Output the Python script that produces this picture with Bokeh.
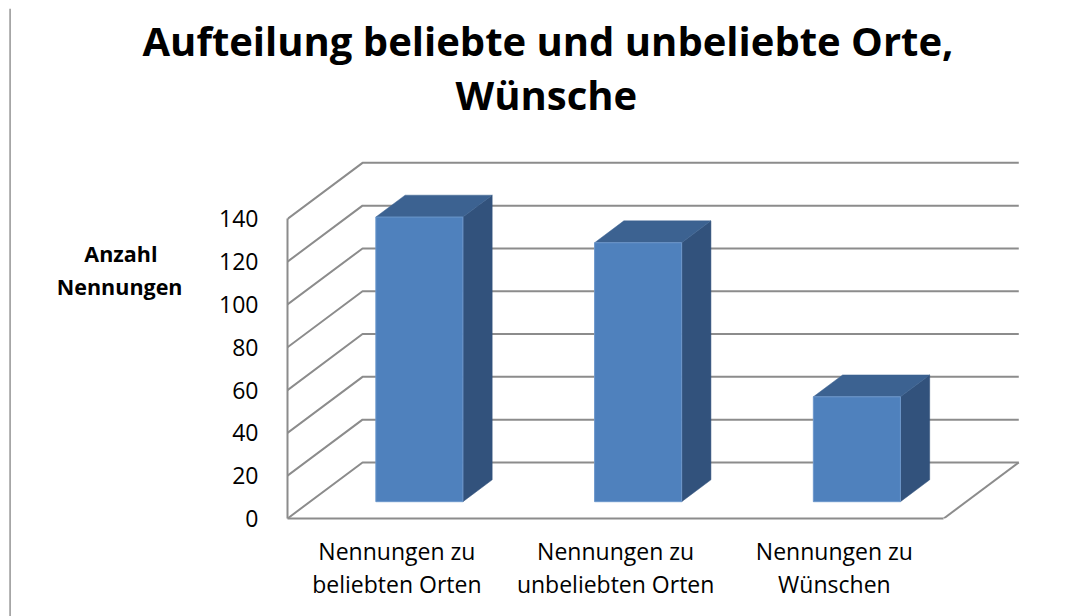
from bokeh.embed import file_html
from bokeh.resources import INLINE
from bokeh.plotting import figure
from bokeh.layouts import row
from bokeh.models import Range1d, LinearAxis, FixedTicker, Title

title_lines = ["Aufteilung beliebte und unbeliebte Orte,", "Wünsche"]
y_title = ["Anzahl", "Nennungen"]
y_title_at = [123.6, 108.6]
cat_line1 = ["Nennungen zu", "Nennungen zu", "Nennungen zu"]
cat_line2 = ["beliebten Orten", "unbeliebten Orten", "Wünschen"]
values = [133, 121, 49]
y_ticks = [0, 20, 40, 60, 80, 100, 120, 140]
cat_pos = [0.5, 1.5, 2.5]

FONT = "Open Sans"
GRAY = "#8c8c8c"
DX, DY = 0.343, 26.2      # depth of the 3-D box in data units
D0, D1 = 0.30, 0.69       # depth span of the bars
HW = 0.199                # half bar width
RULE_W = 11
L, T = 287 - RULE_W, 154
W, H = 1073 - RULE_W, 616

p = figure(width=W, height=H, output_backend="svg", toolbar_location=None,
           x_range=Range1d(0, 3.36), y_range=Range1d(0, 170.09),
           min_border_left=L, min_border_right=51, min_border_top=T, min_border_bottom=98,
           x_axis_type=None, y_axis_type=None, outline_line_color=None, frame_align=False)
p.grid.visible = False

def plain_axis(ticks, labels=None, size="23px", style="normal", standoff=0, line=False, bounds=None):
    ax = LinearAxis(ticker=FixedTicker(ticks=ticks))
    if labels is not None:
        ax.major_label_overrides = {t: s for t, s in zip(ticks, labels)}
    if bounds is not None:
        ax.bounds = bounds
    ax.axis_line_color = GRAY if line else None
    ax.axis_line_width = 2
    ax.major_tick_line_color = None
    ax.minor_tick_line_color = None
    ax.major_label_text_font = FONT
    ax.major_label_text_font_size = size
    ax.major_label_text_font_style = style
    ax.major_label_text_color = "#000000"
    ax.major_label_standoff = standoff
    return ax

p.add_layout(plain_axis(y_ticks, standoff=23, line=True, bounds=(0, 140)), "left")
p.add_layout(plain_axis(y_title_at[1:], y_title[1:], size="21.5px", style="bold", standoff=28), "left")
p.add_layout(plain_axis(y_title_at[:1], y_title[:1], size="21.5px", style="bold", standoff=-110), "left")
p.add_layout(plain_axis(cat_pos, cat_line1, standoff=10, line=True, bounds=(0, 3)), "below")
p.add_layout(plain_axis(cat_pos, cat_line2, standoff=-8), "below")

# wall and floor lines
xs, ys = [], []
for v in y_ticks:
    xs.append([0, DX, 3 + DX])
    ys.append([v, v + DY, v + DY])
p.multi_line(xs, ys, line_color=GRAY, line_width=2)
p.line([3, 3 + DX], [0, DY], line_color=GRAY, line_width=2)

# bars
for c, v in zip(cat_pos, values):
    x0, x1 = c - HW + D0 * DX, c + HW + D0 * DX
    b, t = D0 * DY, v + D0 * DY
    ox, oy = (D1 - D0) * DX, (D1 - D0) * DY
    p.patch([x1, x1 + ox, x1 + ox, x1], [b, b + oy, t + oy, t], color="#32527C", line_width=0.5)
    p.patch([x0, x1, x1 + ox, x0 + ox], [t, t, t + oy, t + oy], color="#3C6291", line_width=0.5)
    p.patch([x0, x1, x1, x0], [b, b, t, t], fill_color="#4F81BD", line_color="#6C97CB", line_width=1)

# title lines: the first one added sits nearest the plot
p.add_layout(Title(text=title_lines[1], align="left", offset=455 - RULE_W - L, standoff=65,
                   text_font=FONT, text_font_style="bold", text_font_size="40px",
                   text_color="#000000"), "above")
p.add_layout(Title(text=title_lines[0], align="left", offset=142 - RULE_W - L, standoff=-70,
                   text_font=FONT, text_font_style="bold", text_font_size="40px",
                   text_color="#000000"), "above")

# page rule at far left, its own narrow figure beside the chart
rule = figure(width=RULE_W, height=H, output_backend="svg", toolbar_location=None,
              x_range=Range1d(0, RULE_W), y_range=Range1d(0, 1),
              min_border_left=0, min_border_right=0, min_border_top=8, min_border_bottom=0,
              x_axis_type=None, y_axis_type=None, outline_line_color=None, frame_align=False)
rule.grid.visible = False
rule.line([9.7, 9.7], [0, 1], line_color="#a6a6a6", line_width=2)

open("out.html", "w").write(file_html(row(rule, p, spacing=0), INLINE))
